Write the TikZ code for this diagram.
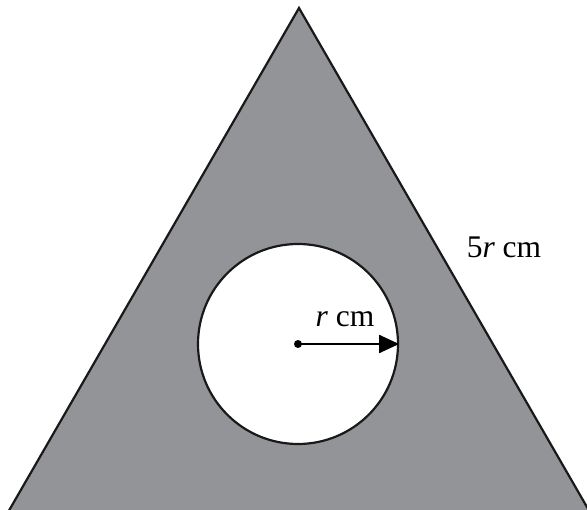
\documentclass[tikz,border=0pt]{standalone}
\usepackage{fontspec}
\setmainfont{Liberation Serif}
\usetikzlibrary{arrows.meta}
\definecolor{triGray}{HTML}{939498}
\tikzset{
  edge/.style={line width=2.2pt, draw=black!90},
  lbl/.style={font=\fontsize{31.5}{38}\selectfont, inner sep=0pt, anchor=base}
}
\begin{document}
\begin{tikzpicture}[x=1pt,y=-1pt]
\useasboundingbox (0,0) rectangle (587,510);
\clip (0,0) rectangle (587,510);
\coordinate (apex) at (299,8);
\coordinate (bl) at (-8,540);
\coordinate (br) at (606,540);
\fill[triGray] (apex) -- (bl) -- (br) -- cycle;
\draw[edge, line join=miter] (bl) -- (apex) -- (br);
\coordinate (ctr) at (298,344);
\node[circle, minimum size=200pt, inner sep=0pt, fill=white, edge] (hole) at (ctr) {};
\fill (ctr) circle (4pt);
\draw[line width=2.2pt, -{Triangle[length=20pt,width=18pt]}] (ctr) -- (hole.east);
\node[lbl] (rlab) at (345,327) {\textit{r} cm};
\node[lbl] (slab) at (504,258) {5\textit{r} cm};
\end{tikzpicture}
\end{document}
